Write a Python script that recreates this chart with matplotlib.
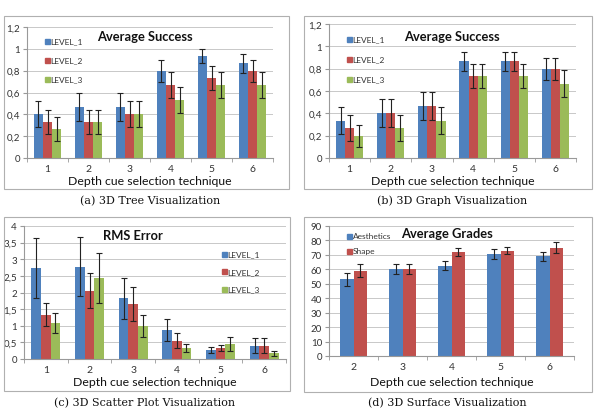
import matplotlib
matplotlib.use("Agg")
import matplotlib.pyplot as plt
from matplotlib.patches import Rectangle
import numpy as np

plt.rcParams['font.family'] = ['Lato', 'DejaVu Sans']

W, H = 603, 410

# ---------- data ----------
tech6 = [1, 2, 3, 4, 5, 6]
tech5 = [2, 3, 4, 5, 6]
levels = ["LEVEL_1", "LEVEL_2", "LEVEL_3"]

tree_vals = [[0.400, 0.467, 0.467, 0.800, 0.933, 0.867],
             [0.333, 0.333, 0.400, 0.667, 0.733, 0.800],
             [0.267, 0.333, 0.400, 0.533, 0.667, 0.667]]
tree_err = [[0.12, 0.125, 0.125, 0.10, 0.065, 0.085],
            [0.11, 0.11, 0.12, 0.12, 0.11, 0.10],
            [0.11, 0.11, 0.12, 0.12, 0.12, 0.12]]

graph_vals = [[0.333, 0.400, 0.467, 0.867, 0.867, 0.800],
              [0.267, 0.400, 0.467, 0.733, 0.867, 0.800],
              [0.200, 0.267, 0.333, 0.733, 0.733, 0.667]]
graph_err = [[0.12, 0.125, 0.125, 0.085, 0.085, 0.10],
             [0.115, 0.125, 0.125, 0.11, 0.085, 0.10],
             [0.10, 0.115, 0.12, 0.11, 0.11, 0.12]]

rms_vals = [[2.73, 2.78, 1.83, 0.88, 0.27, 0.40],
            [1.33, 2.05, 1.66, 0.55, 0.33, 0.40],
            [1.07, 2.44, 1.00, 0.33, 0.45, 0.17]]
rms_err = [[0.90, 0.90, 0.62, 0.33, 0.10, 0.22],
           [0.34, 0.53, 0.52, 0.23, 0.10, 0.22],
           [0.30, 0.75, 0.33, 0.11, 0.21, 0.08]]

grade_names = ["Aesthetics", "Shape"]
grade_vals = [[53, 60, 62.5, 70.5, 69],
              [59, 60.5, 72, 73, 75]]
grade_err = [[4.5, 3.5, 3.0, 3.5, 3.0],
             [4.5, 3.5, 2.5, 2.5, 4.0]]

colors = ["#4F81BD", "#C0504D", "#9BBB59"]
captions = ["(a) 3D Tree Visualization", "(b) 3D Graph Visualization",
            "(c) 3D Scatter Plot Visualization", "(d) 3D Surface Visualization"]

fig = plt.figure(figsize=(W / 100, H / 100), dpi=100)
fig.patch.set_facecolor("white")


def fx(x):
    return x / W


def fy(y):
    return 1 - y / H


def frame(x0, y0, x1, y1):
    fig.patches.append(Rectangle((fx(x0), fy(y1)), fx(x1) - fx(x0), fy(y0) - fy(y1),
                                 transform=fig.transFigure, fill=False,
                                 edgecolor="#b0b0b0", linewidth=0.8))


def panel(box, ax_px, cats, vals, errs, names, ymax, ystep, title, title_xy,
          leg_xy, leg_dy, bar_w, caption, cap_xy, xlabel_y, comma=True):
    frame(*box)
    l, r, t, b = ax_px
    ax = fig.add_axes([fx(l), fy(b), fx(r) - fx(l), fy(t) - fy(b)])
    n = len(vals)
    x = np.arange(len(cats))
    for i in range(n):
        off = (i - (n - 1) / 2) * bar_w
        ax.bar(x + off, vals[i], width=bar_w, color=colors[i], zorder=2)
        ax.errorbar(x + off, vals[i], yerr=errs[i], fmt="none", ecolor="#222222",
                    elinewidth=0.8, capsize=2, capthick=0.8, zorder=3)
    ax.set_xlim(-0.5, len(cats) - 0.5)
    ax.set_ylim(0, ymax)
    yt = np.arange(0, ymax + ystep / 2, ystep)
    ax.set_yticks(yt)
    labs = []
    for v in yt:
        s = ("%g" % round(v, 2))
        labs.append(s.replace(".", ",") if comma else s)
    ax.set_yticklabels(labs, fontsize=7, color="#333333")
    ax.set_xticks(x)
    ax.set_xticklabels([str(c) for c in cats], fontsize=7.5, color="#333333")
    ax.set_xticks(np.arange(-0.5, len(cats)), minor=True)
    ax.tick_params(axis="x", which="major", length=0, pad=4)
    ax.tick_params(axis="x", which="minor", length=3, color="#999999")
    ax.tick_params(axis="y", length=3, color="#999999", pad=2)
    ax.yaxis.grid(True, color="#c8c8c8", linewidth=0.7, zorder=0)
    ax.set_axisbelow(True)
    for s in ["top", "right"]:
        ax.spines[s].set_visible(False)
    for s in ["left", "bottom"]:
        ax.spines[s].set_color("#999999")
        ax.spines[s].set_linewidth(0.8)
    fig.text(fx(title_xy[0]), fy(title_xy[1]), title, fontsize=9.3, fontweight="bold",
             ha="center", va="center", color="#111111")
    lx, ly = leg_xy
    for i, nm in enumerate(names):
        yy = ly + i * leg_dy
        fig.patches.append(Rectangle((fx(lx - 2.5), fy(yy + 2.5)), fx(5), 5 / H,
                                     transform=fig.transFigure, color=colors[i]))
        fig.text(fx(lx + 3.5), fy(yy), nm, fontsize=6, ha="left", va="center",
                 color="#333333")
    fig.text(fx((l + r) / 2), fy(xlabel_y), "Depth cue selection technique",
             fontsize=8.8, ha="center", va="center", color="#111111")
    fig.text(fx(cap_xy[0]), fy(cap_xy[1]), caption, fontsize=8, ha="center",
             va="center", family="DejaVu Serif", color="#111111")
    return ax


panel((4, 17, 289, 190), (27, 273, 28, 159), tech6, tree_vals, tree_err, levels,
      1.2, 0.2, "Average Success", (145, 37), (47, 42), 19, 0.22,
      captions[0], (150, 201), 182)
panel((304, 17, 592, 190), (329, 576, 25, 159), tech6, graph_vals, graph_err, levels,
      1.2, 0.2, "Average Success", (452, 37), (349, 40), 20, 0.22,
      captions[1], (452, 201), 182)
panel((4, 218, 290, 392), (24, 286, 227, 360), tech6, rms_vals, rms_err, levels,
      4, 0.5, "RMS Error", (133, 236), (224, 255), 17.5, 0.22,
      captions[2], (145, 403), 383)
panel((304, 218, 592, 393), (329, 574, 227, 357), tech5, grade_vals, grade_err,
      grade_names, 90, 10, "Average Grades", (447, 234), (349, 237), 15, 0.28,
      captions[3], (447, 403), 383)

fig.savefig("out.png", dpi=100, facecolor="white")
